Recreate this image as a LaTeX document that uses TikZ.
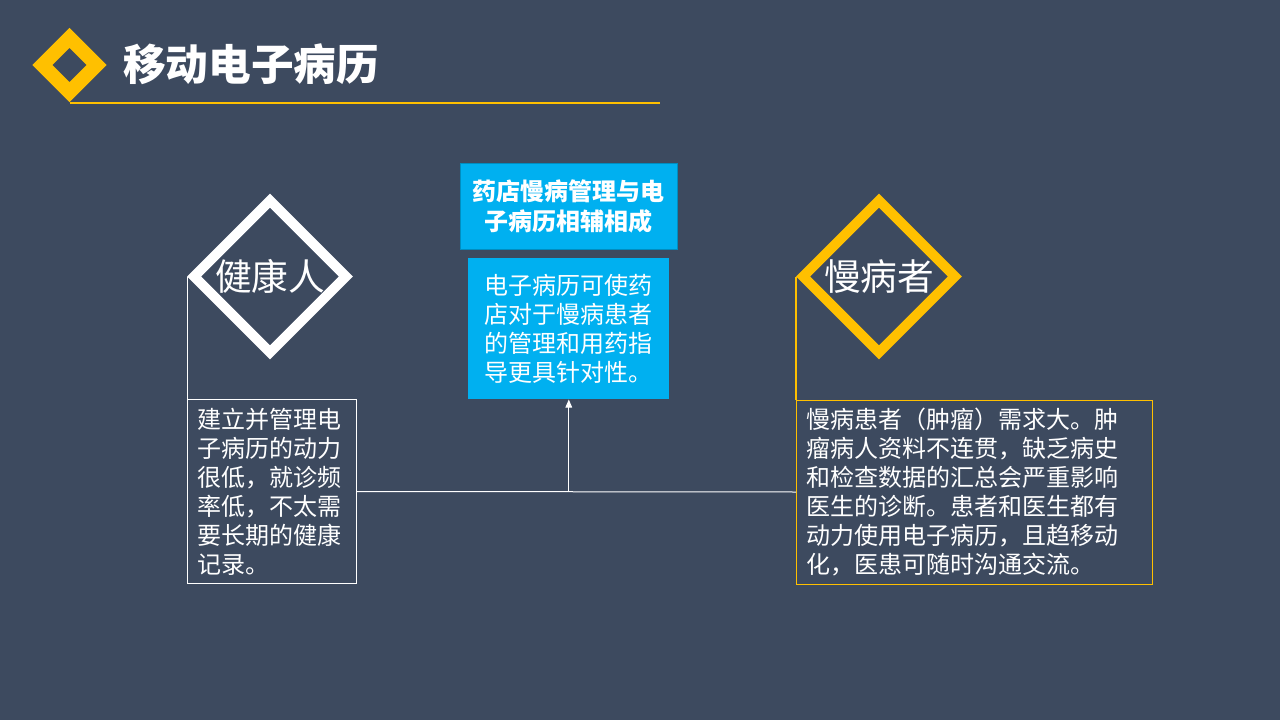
\documentclass[tikz,border=0pt]{standalone}
\usepackage{fontspec}
\setmainfont{Noto Sans CJK SC}
\usetikzlibrary{shapes.geometric,arrows.meta}
\definecolor{slate}{HTML}{3D4A5F}
\definecolor{gold}{HTML}{FFC000}
\definecolor{sky}{HTML}{00B0F0}
\tikzset{
  gem/.style={diamond, aspect=1, inner sep=0pt, line width=7.4pt, minimum size=117pt, text=white, font=\fontsize{27.5}{30}\selectfont},
  textbox/.style={anchor=north west, align=left, inner xsep=7.5pt, line width=0.75pt, minimum height=138pt, text=white, font=\fontsize{18}{21.75}\selectfont},
  link/.style={white, line width=0.75pt}
}
\begin{document}
\begin{tikzpicture}[x=0.75pt,y=0.75pt,yscale=-1,xscale=1]
                \fill[slate] (0,0) rectangle (1280,720);
                \useasboundingbox (0,0) rectangle (1280,720);
                % title
                \node[diamond, aspect=1, draw=gold, line width=10.6pt, minimum size=45pt, inner sep=0pt] (icon) at (69.5,65) {};
                \node[anchor=west, inner sep=0pt, text=white, font=\fontsize{32}{36}\selectfont\bfseries] (title) at (123,64) {移动电子病历};
                \coordinate (rule) at (660,103.5);
                \draw[gold, line width=1.5pt] (icon.south |- rule) -- (rule);
                % diamonds
                \node[gem, draw=white] (healthy) at (270,276.5) {健康人};
                \node[gem, draw=gold] (chronic) at (879,276.5) {慢病者};
                % center
                \node[anchor=north west, fill=sky, draw=sky!80!black, line width=0.5pt, align=center, minimum width=162.75pt, minimum height=64.5pt, text=white, font=\fontsize{18}{22.5}\selectfont\bfseries] (head) at (460,163) {药店慢病管理与电\\子病历相辅相成};
                \node[anchor=north west, fill=sky, align=left, minimum width=150.75pt, minimum height=105.75pt, text=white, font=\fontsize{18}{21.75}\selectfont] (note) at (468,258) {电子病历可使药\\店对于慢病患者\\的管理和用药指\\导更具针对性。};
                % boxes
                \node[textbox, draw=white, text width=111.75pt] (lowneed) at (187,399) {建立并管理电\\子病历的动力\\很低，就诊频\\率低，不太需\\要长期的健康\\记录。};
                \node[textbox, draw=gold, text width=252pt] (highneed) at (796,399.5) {慢病患者（肿瘤）需求大。肿\\瘤病人资料不连贯，缺乏病史\\和检查数据的汇总会严重影响\\医生的诊断。患者和医生都有\\动力使用电子病历，且趋移动\\化，医患可随时沟通交流。};
                % connectors
                \draw[link] (lowneed.north west) -- (lowneed.north west |- healthy.west);
                \draw[gold, line width=0.9pt] (highneed.north west) -- (highneed.north west |- chronic.west);
                \draw[link] (lowneed.east) -- (highneed.west);
                \draw[link, -{Triangle[length=6pt,width=5pt]}] (note.south |- lowneed.east) -- (note.south);
\end{tikzpicture}
\end{document}
